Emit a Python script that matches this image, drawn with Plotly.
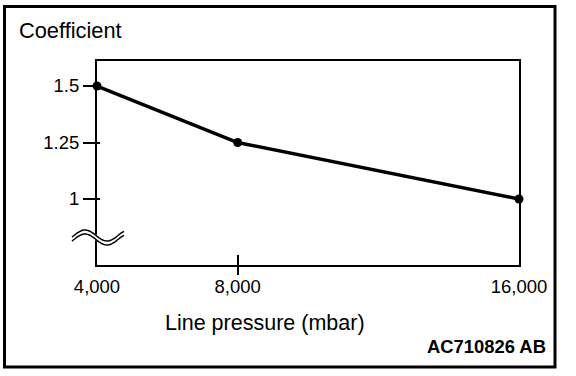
import numpy as np
import plotly.graph_objects as go

# Data
pressure = [4000, 8000, 16000]
coefficient = [1.5, 1.25, 1.0]
x_tick_vals = [4000, 8000, 16000]
x_tick_text = ["4,000", "8,000", "16,000"]
y_tick_vals = [1.0, 1.25, 1.5]
y_tick_text = ["1", "1.25", "1.5"]

W, H = 576, 376
L, R, T, B = 97, 519, 61, 265  # plot area in pixels


def px(xp):
    return (xp - L) / (R - L)


def py(yp):
    return (B - yp) / (B - T)


FONT = "Liberation Sans, Arial, Helvetica, sans-serif"

fig = go.Figure()
fig.add_trace(go.Scatter(
    x=pressure, y=coefficient, mode="lines+markers",
    line=dict(color="black", width=3.5),
    marker=dict(color="black", size=9),
    cliponaxis=False, hoverinfo="skip", showlegend=False,
))
# helper traces for the extra tick axes
fig.add_trace(go.Scatter(x=pressure, y=coefficient, mode="markers", marker=dict(opacity=0),
                         xaxis="x2", yaxis="y2", hoverinfo="skip", showlegend=False))
fig.add_trace(go.Scatter(x=pressure, y=coefficient, mode="markers", marker=dict(opacity=0),
                         xaxis="x3", yaxis="y2", hoverinfo="skip", showlegend=False))

xr = [4000, 16000]
yr = [0.708, 1.6106]

fig.update_layout(
    width=W, height=H,
    margin=dict(l=L, r=W - R, t=T, b=H - B),
    paper_bgcolor="white", plot_bgcolor="white",
    font=dict(family=FONT, color="black", size=18),
    xaxis=dict(range=xr, tickvals=x_tick_vals, ticktext=x_tick_text, ticks="",
               showgrid=False, zeroline=False, showline=True, linecolor="black",
               linewidth=2, mirror=True, ticklabelstandoff=4,
               tickfont=dict(size=18.5, family=FONT)),
    yaxis=dict(range=yr, tickvals=y_tick_vals, ticktext=y_tick_text, ticks="outside",
               ticklen=12, tickwidth=1.5, tickcolor="black",
               showgrid=False, zeroline=False, showline=True, linecolor="black",
               linewidth=2, mirror=True, tickfont=dict(size=18.5, family=FONT)),
    xaxis2=dict(range=xr, overlaying="x", side="bottom", tickvals=[8000], ticktext=[""],
                ticks="outside", ticklen=9, tickwidth=1.5, tickcolor="black",
                showgrid=False, zeroline=False, showline=False),
    xaxis3=dict(range=xr, overlaying="x", side="bottom", tickvals=[8000], ticktext=[""],
                ticks="inside", ticklen=10, tickwidth=1.5, tickcolor="black",
                showgrid=False, zeroline=False, showline=False),
    yaxis2=dict(range=yr, overlaying="y", side="left", tickvals=y_tick_vals, ticktext=["", "", ""],
                ticks="inside", ticklen=3, tickwidth=1.5, tickcolor="black",
                showgrid=False, zeroline=False, showline=False),
)

# outer frame
fig.add_shape(type="rect", xref="paper", yref="paper",
              x0=px(4.5), x1=px(555), y0=py(6.5), y1=py(367),
              line=dict(color="black", width=3), fillcolor="rgba(0,0,0,0)", layer="above")

# axis break symbol
def wave(offset):
    xs = np.linspace(72, 124, 40)
    ys = 235.5 + offset - 5.5 * np.sin(2 * np.pi * (xs - 74) / 44)
    pts = [f"{px(a):.5f},{py(b):.5f}" for a, b in zip(xs, ys)]
    return "M " + " L ".join(pts)

fig.add_shape(type="path", xref="paper", yref="paper", path=wave(2),
              line=dict(color="white", width=5), layer="above")
fig.add_shape(type="path", xref="paper", yref="paper", path=wave(0),
              line=dict(color="black", width=1.5), layer="above")
fig.add_shape(type="path", xref="paper", yref="paper", path=wave(4),
              line=dict(color="black", width=1.5), layer="above")

# texts
fig.add_annotation(text="Coefficient", xref="paper", yref="paper", x=px(17), y=py(30),
                   xanchor="left", yanchor="middle", showarrow=False,
                   font=dict(size=21.8, family=FONT))
fig.add_annotation(text="Line pressure (mbar)", xref="paper", yref="paper", x=px(265), y=py(323),
                   xanchor="center", yanchor="middle", showarrow=False,
                   font=dict(size=21.5, family=FONT))
fig.add_annotation(text="<b>AC710826 AB</b>", xref="paper", yref="paper", x=px(548), y=py(346),
                   xanchor="right", yanchor="middle", showarrow=False,
                   font=dict(size=18.4, family=FONT))

fig.write_html("out.html", config={"displayModeBar": False},
               post_script="document.body.style.margin='0';")
